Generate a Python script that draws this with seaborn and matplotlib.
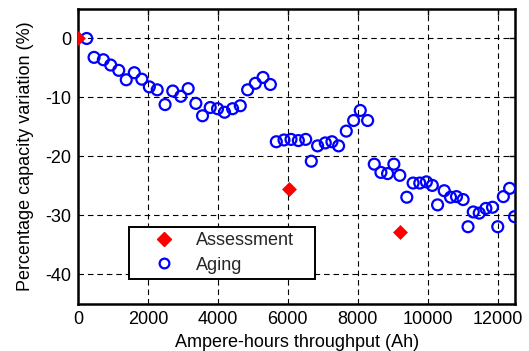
import matplotlib
matplotlib.use("Agg")
import matplotlib.pyplot as plt
import seaborn as sns
from matplotlib.lines import Line2D

# Aging test points (Ah throughput, % capacity variation)
aging_ah = [250, 460, 725, 935, 1165, 1380, 1610, 1825, 2040, 2265, 2490, 2710,
            2940, 3150, 3370, 3560, 3780, 3990, 4190, 4420, 4640, 4850, 5070,
            5290, 5500, 5670, 5890, 6090, 6300, 6510, 6670, 6850, 7070, 7260,
            7450, 7670, 7880, 8070, 8280, 8470, 8660, 8850, 9030, 9200, 9400,
            9580, 9770, 9960, 10130, 10280, 10470, 10650, 10820, 11010, 11150,
            11300, 11470, 11660, 11850, 12000, 12160, 12340, 12480]
aging_var = [0.0, -3.2, -3.6, -4.5, -5.4, -7.0, -5.8, -6.9, -8.2, -8.7, -11.2, -8.9,
             -9.8, -8.5, -11.0, -13.1, -11.7, -11.9, -12.5, -11.9, -11.4, -8.7, -7.6,
             -6.6, -7.8, -17.5, -17.2, -17.1, -17.3, -17.1, -20.8, -18.2, -17.7, -17.5,
             -18.2, -15.7, -13.9, -12.2, -13.9, -21.3, -22.7, -22.9, -21.3, -23.2, -26.9,
             -24.5, -24.5, -24.3, -24.9, -28.2, -25.8, -26.9, -26.8, -27.3, -31.9,
             -29.4, -29.6, -28.8, -28.6, -31.9, -26.8, -25.4, -30.2]

# Assessment test points
assess_ah = [0, 6040, 9200]
assess_var = [0.0, -25.5, -32.8]

x_ticks = [0, 2000, 4000, 6000, 8000, 10000, 12000]
y_ticks = [0, -10, -20, -30, -40]

sns.set_theme(style="white")
plt.rcParams['font.family'] = ['Liberation Sans', 'DejaVu Sans']

FS = 13

fig = plt.figure(figsize=(5.29, 3.51), dpi=100)
ax = fig.add_axes([0.1474, 0.1339, 0.8266, 0.8405])

blue = '#0000ff'
red = '#ff0000'

sns.scatterplot(x=aging_ah, y=aging_var, ax=ax, marker='o', s=62,
                facecolor='none', edgecolor=blue, linewidth=1.6, zorder=3)
sns.scatterplot(x=assess_ah, y=assess_var, ax=ax, marker='D', s=50,
                color=red, edgecolor=red, linewidth=0.5, zorder=4)

ax.set_xlim(0, 12500)
ax.set_ylim(-45, 5)
ax.set_xticks(x_ticks)
ax.set_yticks(y_ticks)
ax.set_xticklabels([str(v) for v in x_ticks])
ax.set_yticklabels([str(v) for v in y_ticks])

ax.set_axisbelow(True)
ax.grid(True, color='black', linestyle=(0, (5, 3.5)), linewidth=0.8)

for sp in ax.spines.values():
    sp.set_visible(True)
    sp.set_color('black')
    sp.set_linewidth(1.8)

ax.tick_params(direction='in', top=True, right=True, length=4, width=1,
               colors='black', labelsize=FS, pad=5)

ax.set_xlabel('Ampere-hours throughput (Ah)', fontsize=FS, color='black', labelpad=4)
ax.set_ylabel('Percentage capacity variation (%)', fontsize=FS, color='black', labelpad=8)

handles = [
    Line2D([], [], linestyle='none', marker='D', markersize=7,
           markerfacecolor=red, markeredgecolor=red),
    Line2D([], [], linestyle='none', marker='o', markersize=7,
           markerfacecolor='none', markeredgecolor=blue, markeredgewidth=1.6),
]
leg = ax.legend(handles, ['Assessment', 'Aging'], loc='lower left',
                bbox_to_anchor=(0.117, 0.085, 0.425, 0.183), mode='expand',
                borderaxespad=0, fancybox=False, shadow=False, framealpha=1,
                edgecolor='black', fontsize=FS, handletextpad=0.1,
                borderpad=0.3, labelspacing=0.4, handlelength=3.3)
leg.get_frame().set_linewidth(1.4)

fig.savefig('out.png', dpi=100)
